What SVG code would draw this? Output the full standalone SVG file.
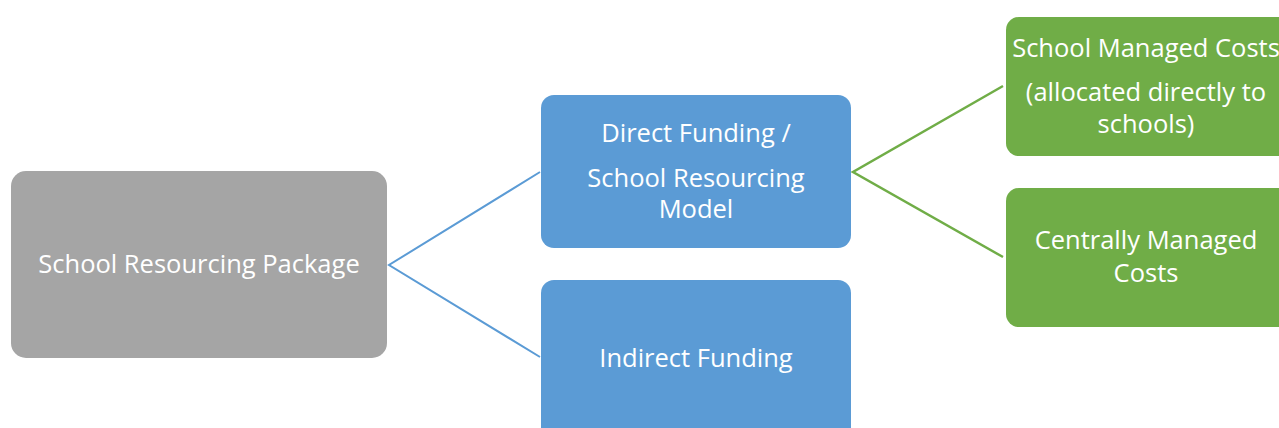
<svg xmlns="http://www.w3.org/2000/svg" width="1279" height="428" viewBox="0 0 1279 428">
  <style>
    .box-grey { fill: #a5a5a5; }
    .box-blue { fill: #5b9bd5; }
    .box-green { fill: #70ad47; }
    .label { font-family: "Open Sans", "Liberation Sans", sans-serif; font-size: 25.5px; fill: #ffffff; text-anchor: middle; }
    .link-blue { stroke: #5b9bd5; stroke-width: 2; fill: none; }
    .link-green { stroke: #70ad47; stroke-width: 2.5; fill: none; }
  </style>
  <rect width="1279" height="428" fill="#ffffff"/>

  <g id="connectors">
    <path class="link-blue" d="M540 172 L389 265 L540 357"/>
    <path class="link-green" d="M1003 86 L853 172 L1003 257"/>
  </g>

  <g id="package">
    <rect class="box-grey" x="11" y="171" width="376" height="187" rx="15"/>
    <text class="label" x="199" y="273">School Resourcing Package</text>
  </g>

  <g id="direct-funding">
    <rect class="box-blue" x="541" y="95" width="310" height="153" rx="13"/>
    <text class="label" x="696" y="142">Direct Funding /</text>
    <text class="label" x="696" y="187">School Resourcing</text>
    <text class="label" x="696" y="218">Model</text>
  </g>

  <g id="indirect-funding">
    <rect class="box-blue" x="541" y="280" width="310" height="170" rx="13"/>
    <text class="label" x="696" y="367">Indirect Funding</text>
  </g>

  <g id="school-managed">
    <rect class="box-green" x="1006" y="17" width="285" height="139" rx="13"/>
    <text class="label" x="1146" y="57">School Managed Costs</text>
    <text class="label" x="1146" y="101">(allocated directly to</text>
    <text class="label" x="1146" y="133">schools)</text>
  </g>

  <g id="centrally-managed">
    <rect class="box-green" x="1006" y="188" width="285" height="139" rx="13"/>
    <text class="label" x="1146" y="249">Centrally Managed</text>
    <text class="label" x="1146" y="282">Costs</text>
  </g>
</svg>
